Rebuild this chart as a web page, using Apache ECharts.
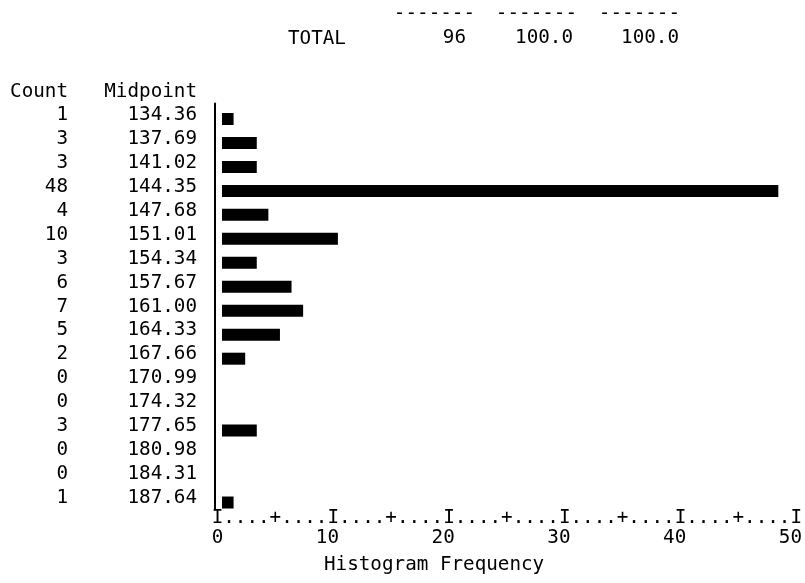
<!DOCTYPE html>
<html>
<head>
<meta charset="utf-8">
<script src="https://cdn.jsdelivr.net/npm/echarts@6/dist/echarts.min.js"></script>
<style>
  html, body { margin: 0; padding: 0; background: #fff; }
  #chart { width: 805px; height: 583px; }
</style>
</head>
<body>
<div id="chart"></div>
<script>
// Frequency table: bin midpoints and the count in each bin
const midpoints = ['134.36', '137.69', '141.02', '144.35', '147.68', '151.01', '154.34', '157.67',
  '161.00', '164.33', '167.66', '170.99', '174.32', '177.65', '180.98', '184.31', '187.64'];
const counts = [1, 3, 3, 48, 4, 10, 3, 6, 7, 5, 2, 0, 0, 3, 0, 0, 1];

// Summary line printed above the histogram
const totalLabel = 'TOTAL';
const totalValues = ['96', '100.0', '100.0'];

// Frequency scale
const freqMin = 0;
const freqMax = 50;
const freqTicks = [0, 10, 20, 30, 40, 50];

const MONO = "'DejaVu Sans Mono', 'Liberation Mono', monospace";
const FS = 19.25;
const INK = '#000';

// Ruler characters along the frequency scale: I every 10, + every 5, dots between
function rulerChar(v) {
  if (v % 10 === 0) return 'I';
  if (v % 5 === 0) return '+';
  return '.';
}

const chart = echarts.init(document.getElementById('chart'), null, { renderer: 'canvas' });

const totalRight = [466, 573, 679];
const dashRight = [475, 577, 680];

function textEl(text, x, y, align) {
  return {
    type: 'text', x: x, y: y,
    style: { text: text, font: FS + 'px ' + MONO, fill: INK, textAlign: align, textVerticalAlign: 'middle' }
  };
}

const graphics = [];
totalValues.forEach((t, i) => {
  graphics.push(textEl('-------', dashRight[i], 14, 'right'));
  graphics.push(textEl(t, totalRight[i], 38, 'right'));
});
graphics.push(textEl(totalLabel, 288, 39, 'left'));
graphics.push(textEl('Count', 68, 92, 'right'));
graphics.push(textEl('Midpoint', 197, 92, 'right'));
graphics.push(textEl('Histogram Frequency', 324, 565, 'left'));

const labelStyle = { fontFamily: MONO, fontSize: FS, color: INK };

const option = {
  backgroundColor: '#fff',
  animation: false,
  grid: [
    // bars
    { left: 222, top: 107, width: 579.5, height: 407.5 },
    // row labels and vertical frame line
    { left: 214.5, top: 103.5, width: 100, height: 406 },
    // ruler characters
    { left: 217.5, top: 502, width: 579.5, height: 1 },
    // scale numbers
    { left: 223.3, top: 500, width: 579.5, height: 1 }
  ],
  xAxis: [
    { gridIndex: 0, type: 'value', min: freqMin, max: freqMax, show: false },
    { gridIndex: 1, type: 'value', min: 0, max: 1, show: false },
    {
      gridIndex: 2, type: 'value', min: freqMin, max: freqMax, interval: 1,
      axisLine: { show: false }, axisTick: { show: false }, splitLine: { show: false },
      axisLabel: Object.assign({ margin: 5, formatter: v => rulerChar(v), showMinLabel: true, showMaxLabel: true }, labelStyle)
    },
    {
      gridIndex: 3, type: 'value', min: freqTicks[0], max: freqTicks[freqTicks.length - 1],
      interval: freqTicks[1] - freqTicks[0],
      axisLine: { show: false }, axisTick: { show: false }, splitLine: { show: false },
      axisLabel: Object.assign({ margin: 27, align: 'right', showMinLabel: true, showMaxLabel: true }, labelStyle)
    }
  ],
  yAxis: [
    { gridIndex: 0, type: 'category', data: midpoints, inverse: true, show: false },
    {
      gridIndex: 1, type: 'category', data: midpoints, inverse: true, position: 'left',
      axisLine: { show: true, lineStyle: { color: INK, width: 2 } },
      axisTick: { show: false },
      axisLabel: Object.assign({ interval: 0, margin: 17.5, align: 'right' }, labelStyle)
    },
    {
      gridIndex: 1, type: 'category', data: midpoints, inverse: true, position: 'left',
      axisLine: { show: false }, axisTick: { show: false },
      axisLabel: Object.assign({ interval: 0, margin: 146.5, align: 'right', formatter: (v, i) => String(counts[i]) }, labelStyle)
    },
    { gridIndex: 2, type: 'value', show: false },
    { gridIndex: 3, type: 'value', show: false }
  ],
  series: [
    {
      type: 'bar',
      xAxisIndex: 0, yAxisIndex: 0,
      data: counts,
      barWidth: 12,
      itemStyle: { color: '#000' },
      silent: true
    }
  ],
  graphic: graphics
};

chart.setOption(option);
</script>
</body>
</html>
